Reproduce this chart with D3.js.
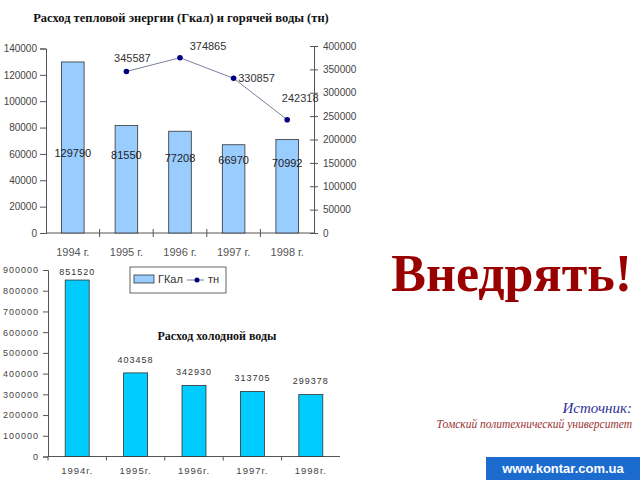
<!DOCTYPE html>
<html>
<head>
<meta charset="utf-8">
<script src="https://cdn.jsdelivr.net/npm/d3@7"></script>
<style>
  body { margin: 0; background: #fff; }
  svg text { font-family: "Liberation Sans", Arial, sans-serif; }
  .ttl { font-family: "Liberation Serif", "Times New Roman", serif; font-weight: bold; font-size: 12.5px; fill: #111; }
  .tick text { fill: #444; font-size: 10px; }
  .domain, .tick line { stroke: #555; }
</style>
</head>
<body>
<div id="svgDiv"></div>
<script>
// top chart data
var years = ['1994 г.', '1995 г.', '1996 г.', '1997 г.', '1998 г.'];
var heatGcal = [129790, 81550, 77208, 66970, 70992];
var hotWaterYears = ['1995 г.', '1996 г.', '1997 г.', '1998 г.'];
var hotWaterTn = [345587, 374865, 330857, 242318];
var leftTicks = [0, 20000, 40000, 60000, 80000, 100000, 120000, 140000];
var rightTicks = [0, 50000, 100000, 150000, 200000, 250000, 300000, 350000, 400000];

// bottom chart data
var coldYears = ['1994г.', '1995г.', '1996г.', '1997г.', '1998г.'];
var coldWater = [851520, 403458, 342930, 313705, 299378];
var coldTicks = [0, 100000, 200000, 300000, 400000, 500000, 600000, 700000, 800000, 900000];

var svg = d3.select('#svgDiv').append('svg')
    .attr('width', 640)
    .attr('height', 480);

// ---- top chart ----
svg.append('text').attr('class', 'ttl')
    .attr('x', 181).attr('y', 22).attr('text-anchor', 'middle')
    .text('Расход тепловой энергии (Гкал) и горячей воды (тн)');

var x1 = d3.scaleBand().domain(years).range([46, 314]);
var yL = d3.scaleLinear().domain([0, 140000]).range([233, 48.5]);
var yR = d3.scaleLinear().domain([0, 400000]).range([233, 46]);

svg.append('g')
    .attr('transform', 'translate(46,0)')
    .call(d3.axisLeft(yL).tickValues(leftTicks).tickFormat(d3.format('d')).tickSize(6).tickPadding(3));

svg.append('g')
    .attr('transform', 'translate(314,0)')
    .call(d3.axisRight(yR).tickValues(rightTicks).tickFormat(d3.format('d')).tickSize(4).tickPadding(5))
    .selectAll('.tick line').attr('x1', -4);

// x axis with ticks between categories
var gx1 = svg.append('g').attr('transform', 'translate(0,233)');
gx1.append('line').attr('x1', 46).attr('x2', 314).attr('stroke', '#555');
gx1.selectAll('line.sep').data(years.slice(1)).enter().append('line')
    .attr('class', 'sep')
    .attr('x1', function (d) { return x1(d); })
    .attr('x2', function (d) { return x1(d); })
    .attr('y1', -4).attr('y2', 4).attr('stroke', '#555');
gx1.selectAll('text').data(years).enter().append('text')
    .attr('x', function (d) { return x1(d) + x1.bandwidth() / 2; })
    .attr('y', 23).attr('text-anchor', 'middle')
    .attr('fill', '#555').style('font-size', '11px')
    .text(function (d) { return d; });

var bw1 = 22.6;
svg.selectAll('rect.heat').data(heatGcal).enter().append('rect')
    .attr('class', 'heat')
    .attr('x', function (d, i) { return x1(years[i]) + x1.bandwidth() / 2 - bw1 / 2; })
    .attr('y', function (d) { return yL(d); })
    .attr('width', bw1)
    .attr('height', function (d) { return yL(0) - yL(d); })
    .attr('fill', '#99ccff')
    .attr('stroke', '#333')
    .attr('stroke-width', 0.8);

svg.selectAll('text.heatLbl').data(heatGcal).enter().append('text')
    .attr('class', 'heatLbl')
    .attr('x', function (d, i) { return x1(years[i]) + x1.bandwidth() / 2; })
    .attr('y', function (d, i) { return yL(55000) + 2.5 * i - 4; })
    .attr('text-anchor', 'middle')
    .attr('fill', '#222').style('font-size', '11px')
    .text(function (d) { return d; });

var line = d3.line()
    .x(function (d, i) { return x1(hotWaterYears[i]) + x1.bandwidth() / 2; })
    .y(function (d) { return yR(d); });

svg.append('path')
    .datum(hotWaterTn)
    .attr('d', line)
    .attr('fill', 'none')
    .attr('stroke', '#7a80a0')
    .attr('stroke-width', '1px');

svg.selectAll('circle.hw').data(hotWaterTn).enter().append('circle')
    .attr('class', 'hw')
    .attr('cx', function (d, i) { return x1(hotWaterYears[i]) + x1.bandwidth() / 2; })
    .attr('cy', function (d) { return yR(d); })
    .attr('r', 2.8)
    .attr('fill', '#000080');

var hwDx = [6, 28, 23, 13];
var hwDy = [-9, -8, 4, -18];
svg.selectAll('text.hwLbl').data(hotWaterTn).enter().append('text')
    .attr('class', 'hwLbl')
    .attr('x', function (d, i) { return x1(hotWaterYears[i]) + x1.bandwidth() / 2 + hwDx[i]; })
    .attr('y', function (d, i) { return yR(d) + hwDy[i]; })
    .attr('text-anchor', 'middle')
    .attr('fill', '#333').style('font-size', '11px')
    .text(function (d) { return d; });

// legend
var lg = svg.append('g').attr('transform', 'translate(130,267)');
lg.append('rect').attr('width', 96).attr('height', 26)
    .attr('fill', '#fff').attr('stroke', '#666');
lg.append('rect').attr('x', 4).attr('y', 8).attr('width', 20).attr('height', 8)
    .attr('fill', '#99ccff').attr('stroke', '#333').attr('stroke-width', 0.8);
lg.append('text').attr('x', 28).attr('y', 16).attr('fill', '#333').style('font-size', '11px').text('ГКал');
lg.append('line').attr('x1', 57).attr('x2', 74).attr('y1', 13).attr('y2', 13).attr('stroke', '#7a80a0');
lg.append('circle').attr('cx', 67).attr('cy', 13).attr('r', 2.5).attr('fill', '#000080');
lg.append('text').attr('x', 78).attr('y', 16).attr('fill', '#333').style('font-size', '11px').text('тн');

// ---- bottom chart ----
svg.append('text').attr('class', 'ttl')
    .attr('x', 217).attr('y', 340).attr('text-anchor', 'middle')
    .style('font-size', '12px')
    .text('Расход холодной воды');

var x2 = d3.scaleBand().domain(coldYears).range([48, 340]);
var y2 = d3.scaleLinear().domain([0, 900000]).range([456.5, 270]);

var gy2 = svg.append('g')
    .attr('transform', 'translate(48,0)')
    .call(d3.axisLeft(y2).tickValues(coldTicks).tickFormat(d3.format('d')).tickSize(5).tickPadding(4));
gy2.selectAll('.tick text').style('font-size', '9px').style('letter-spacing', '1px');

var gx2 = svg.append('g').attr('transform', 'translate(0,456.5)');
gx2.append('line').attr('x1', 48).attr('x2', 340).attr('stroke', '#555');
gx2.selectAll('line.sep').data(coldYears).enter().append('line')
    .attr('class', 'sep')
    .attr('x1', function (d) { return x2(d); })
    .attr('x2', function (d) { return x2(d); })
    .attr('y1', 0).attr('y2', 4).attr('stroke', '#555');
gx2.selectAll('text').data(coldYears).enter().append('text')
    .attr('x', function (d) { return x2(d) + x2.bandwidth() / 2; })
    .attr('y', 17).attr('text-anchor', 'middle')
    .attr('fill', '#444').style('font-size', '9.5px').style('letter-spacing', '1px')
    .text(function (d) { return d; });

var bw2 = 24;
svg.selectAll('rect.cold').data(coldWater).enter().append('rect')
    .attr('class', 'cold')
    .attr('x', function (d, i) { return x2(coldYears[i]) + x2.bandwidth() / 2 - bw2 / 2; })
    .attr('y', function (d) { return y2(d); })
    .attr('width', bw2)
    .attr('height', function (d) { return y2(0) - y2(d); })
    .attr('fill', '#00ccff')
    .attr('stroke', '#333')
    .attr('stroke-width', 0.8);

svg.selectAll('text.coldLbl').data(coldWater).enter().append('text')
    .attr('class', 'coldLbl')
    .attr('x', function (d, i) { return x2(coldYears[i]) + x2.bandwidth() / 2; })
    .attr('y', function (d, i) { return y2(d) - (i === 0 ? 5 : 10); })
    .attr('text-anchor', 'middle')
    .attr('fill', '#333').style('font-size', '9px').style('letter-spacing', '1px')
    .text(function (d) { return d; });

// ---- right side captions ----
svg.append('text')
    .attr('x', 632).attr('y', 291).attr('text-anchor', 'end')
    .style('font-family', '"Liberation Serif", "Times New Roman", serif')
    .style('font-weight', 'bold').style('font-size', '52px')
    .attr('fill', '#990000')
    .text('Внедрять!');

svg.append('text')
    .attr('x', 632).attr('y', 413).attr('text-anchor', 'end')
    .style('font-family', '"Liberation Serif", "Times New Roman", serif')
    .style('font-style', 'italic').style('font-size', '15px')
    .attr('fill', '#333399')
    .text('Источник:');

svg.append('text')
    .attr('x', 632).attr('y', 428).attr('text-anchor', 'end')
    .style('font-family', '"Liberation Serif", "Times New Roman", serif')
    .style('font-style', 'italic').style('font-size', '11.5px')
    .attr('fill', '#993333')
    .text('Томский политехнический университет');

svg.append('rect').attr('x', 486).attr('y', 457).attr('width', 154).attr('height', 23)
    .attr('fill', '#1c6cd0');
svg.append('text').attr('x', 563).attr('y', 473).attr('text-anchor', 'middle')
    .attr('fill', '#fff').style('font-weight', 'bold').style('font-size', '13px')
    .text('www.kontar.com.ua');
</script>
</body>
</html>
